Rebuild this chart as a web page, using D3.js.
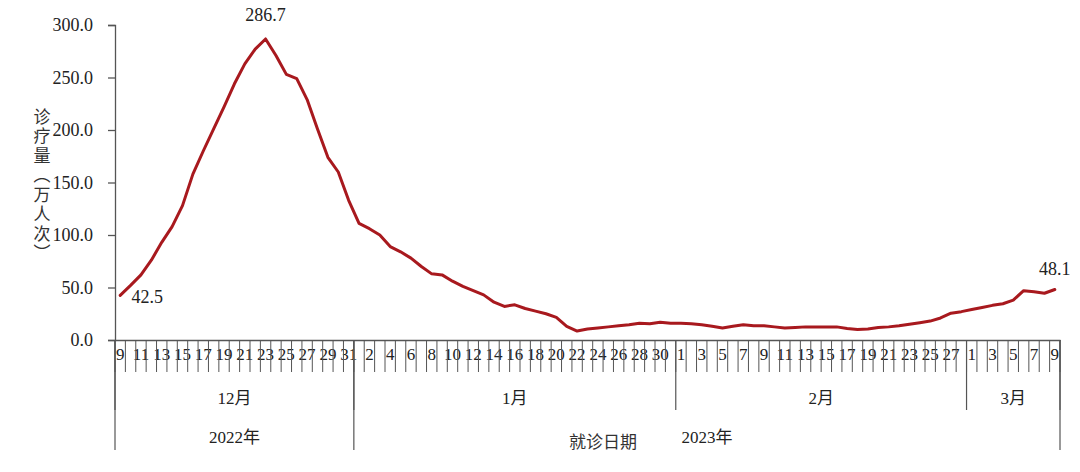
<!DOCTYPE html>
<html><head><meta charset="utf-8">
<script src="https://cdn.jsdelivr.net/npm/d3@7"></script>
<style>
body{margin:0;background:#fff;}
svg{display:block;}
</style></head>
<body><svg id="c" width="1080" height="472"></svg>
<script>
// ---- data ----
const months = ["12月","1月","2月","3月"];
const monthDays = [
  [9,10,11,12,13,14,15,16,17,18,19,20,21,22,23,24,25,26,27,28,29,30,31],
  [1,2,3,4,5,6,7,8,9,10,11,12,13,14,15,16,17,18,19,20,21,22,23,24,25,26,27,28,29,30,31],
  [1,2,3,4,5,6,7,8,9,10,11,12,13,14,15,16,17,18,19,20,21,22,23,24,25,26,27,28],
  [1,2,3,4,5,6,7,8,9]
];
const years = ["2022年","2023年"];
const yearMonthCount = [1,3];
const valuesDec = [42.5,52,62,76,93,108,128,158,180,201,222,244,263,277,286.7,271,253,249,229,201,174,160,133];
const valuesJan = [111,106,100,89,84,78,70,63,62,56,51,47,43,36,32,33.5,30,27.5,25,21.5,13,8.5,10.5,11.5,12.5,13.5,14.5,16,15.5,17,16];
const valuesFeb = [16,15.5,14.5,13,11.5,13,14.5,13.5,13.5,12.5,11.5,12,12.5,12.5,12.5,12.5,11,10,10.5,12,12.5,13.5,15,16.5,18,21,25.5,27];
const valuesMar = [29,31,33,34.5,38,47,46,44.5,48.1];
const yTicks = [0,50,100,150,200,250,300];
const yTitle = "诊疗量（万人次）";
const xTitle = "就诊日期";
const labelled = [{i:0, text:"42.5"},{i:14, text:"286.7"},{i:90, text:"48.1"}];

// ---- build ----
const SERIF = "'Liberation Serif', 'Times New Roman', 'Noto Sans CJK SC', serif";
const CJK = "'Noto Sans CJK SC', sans-serif";
const values = [].concat(valuesDec, valuesJan, valuesFeb, valuesMar);
const days = [].concat(...monthDays);
const idx = d3.range(values.length);

const svg = d3.select("#c");
const L = 115, R = 1060, T = 25, B = 340;
const x = d3.scaleBand().domain(idx).range([L, R]).padding(0);
const y = d3.scaleLinear().domain([0, 300]).range([B, T]);
const axisColor = "#555";
const txt = "#222";

function serifText(sel, size){ return sel.attr("font-family", SERIF).style("font-family", SERIF).style("font-size", size + "px").attr("fill", txt); }

// y axis
const ya = svg.append("g").attr("transform", `translate(${L},0)`)
  .call(d3.axisLeft(y).tickValues(yTicks).tickFormat(d3.format(".1f")).tickSize(7).tickPadding(15));
ya.attr("font-family", SERIF);
serifText(ya.selectAll("text"), 18);
ya.select(".domain").attr("stroke", axisColor).attr("stroke-width",1.3);
ya.selectAll(".tick line").attr("stroke", axisColor).attr("stroke-width",1.3);

// y title (vertical)
svg.append("text")
  .attr("x", 42).attr("y", 108)
  .style("font-family", CJK).attr("fill", "#333")
  .style("writing-mode","vertical-rl").style("text-orientation","upright")
  .style("font-size","17px").style("letter-spacing","2.5px")
  .text(yTitle);

// x axis labels (every other category)
const xa = svg.append("g").attr("transform", `translate(0,${B})`)
  .call(d3.axisBottom(x).tickValues(idx.filter(i => i % 2 === 0)).tickFormat(i => days[i]).tickSize(0).tickPadding(8));
xa.attr("font-family", SERIF);
xa.select(".domain").attr("stroke", axisColor).attr("stroke-width",1.3);
serifText(xa.selectAll("text"), 17);

// category boundary ticks
const bounds = d3.range(values.length + 1).map(k => L + k * x.bandwidth());
svg.append("g").selectAll("line").data(bounds).join("line")
  .attr("x1", d => d).attr("x2", d => d).attr("y1", B).attr("y2", B + 32)
  .attr("stroke", axisColor).attr("stroke-width", 1);

// month boundaries and labels
let start = 0;
const monthStarts = [];
monthDays.forEach((m) => { monthStarts.push(start); start += m.length; });
monthStarts.push(values.length);
const mg = svg.append("g");
monthStarts.forEach((s) => {
  const xx = L + s * x.bandwidth();
  mg.append("line").attr("x1", xx).attr("x2", xx).attr("y1", B).attr("y2", B + 70)
    .attr("stroke", axisColor).attr("stroke-width", 1.2);
});
months.forEach((m, k) => {
  const x0 = L + monthStarts[k] * x.bandwidth(), x1 = L + monthStarts[k+1] * x.bandwidth();
  serifText(mg.append("text"), 17).attr("x", (x0 + x1) / 2).attr("y", B + 64)
    .attr("text-anchor","middle").text(m);
});

// year boundaries and labels
let mAcc = 0;
const yearBounds = [0];
yearMonthCount.forEach(c => { mAcc += c; yearBounds.push(monthStarts[mAcc]); });
yearBounds.forEach(s => {
  const xx = L + s * x.bandwidth();
  mg.append("line").attr("x1", xx).attr("x2", xx).attr("y1", B).attr("y2", B + 110)
    .attr("stroke", axisColor).attr("stroke-width", 1.2);
});
years.forEach((yy, k) => {
  const x0 = L + yearBounds[k] * x.bandwidth(), x1 = L + yearBounds[k+1] * x.bandwidth();
  serifText(mg.append("text"), 17).attr("x", (x0 + x1) / 2).attr("y", B + 103)
    .attr("text-anchor","middle").text(yy);
});

// x title
svg.append("text").style("font-family", CJK).attr("fill", "#333").attr("x", 603).attr("y", B + 108)
  .attr("text-anchor","middle").style("font-size","17px").text(xTitle);

// line
const line = d3.line().x(i => x(i) + x.bandwidth() / 2).y(i => y(values[i]));
svg.append("path").datum(idx).attr("d", line)
  .attr("fill","none").attr("stroke","#a8191e").attr("stroke-width",3)
  .attr("stroke-linejoin","round").attr("stroke-linecap","round");

// value labels
const offs = {0:[27,8], 14:[0,-18], 90:[0,-14]};
labelled.forEach(l => {
  serifText(svg.append("text"), 18)
    .attr("x", x(l.i) + x.bandwidth()/2 + offs[l.i][0])
    .attr("y", y(values[l.i]) + offs[l.i][1])
    .attr("text-anchor","middle").text(l.text);
});
</script></body></html>
